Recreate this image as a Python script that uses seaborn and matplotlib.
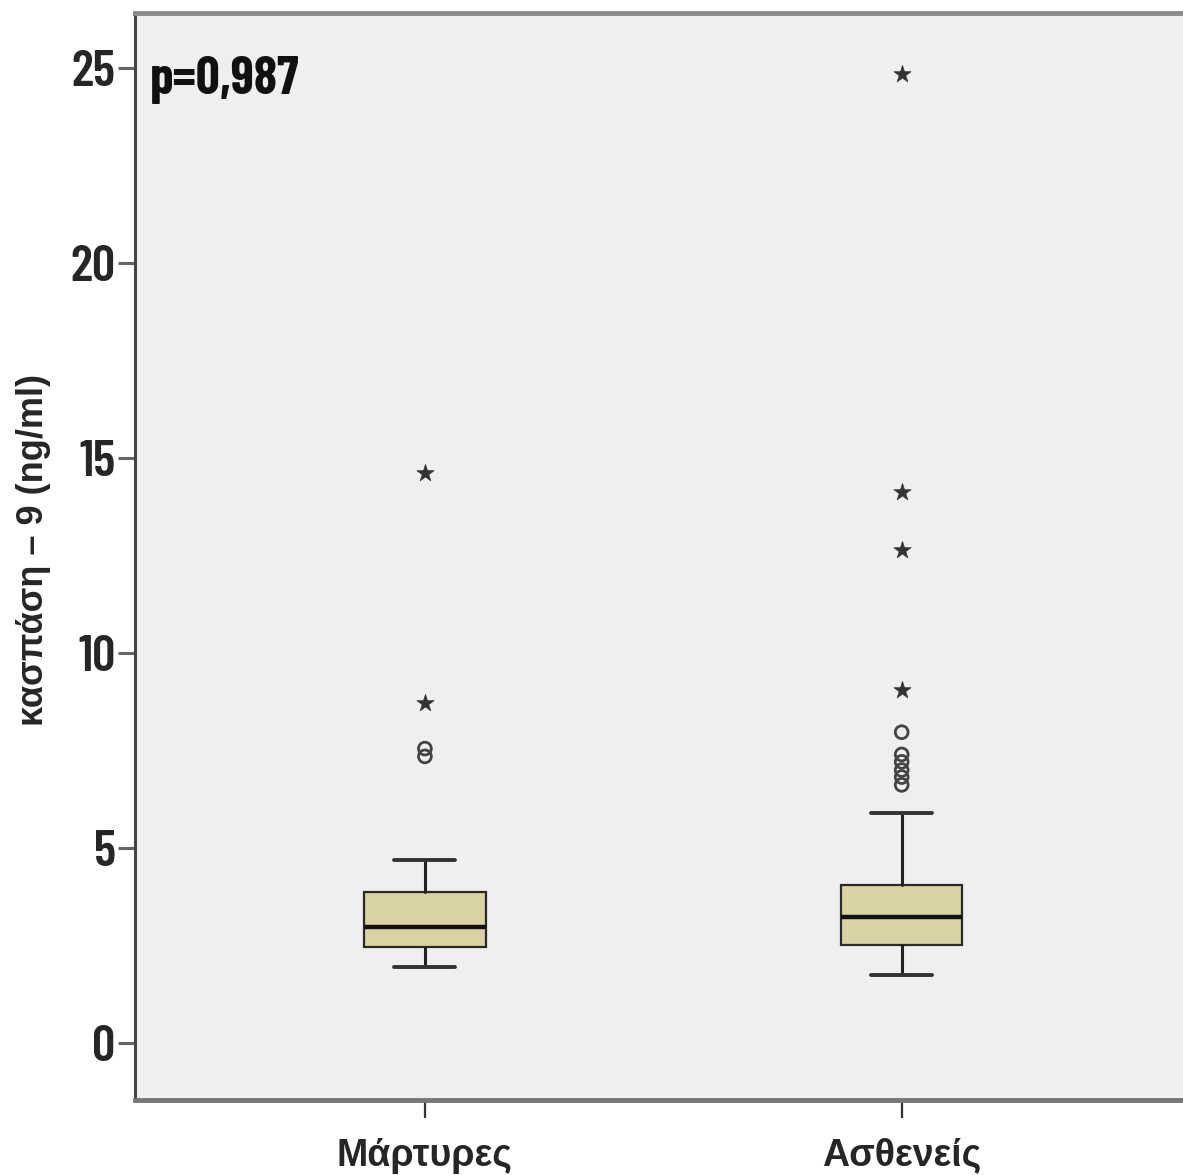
import matplotlib
matplotlib.use("Agg")
import matplotlib.pyplot as plt
import seaborn as sns
import pandas as pd

# Groups and box summaries (ng/ml)
groups = ["Μάρτυρες", "Ασθενείς"]
whisker_low = [1.95, 1.74]
q1 = [2.46, 2.51]
median = [2.97, 3.23]
q3 = [3.87, 4.05]
whisker_high = [4.69, 5.90]

# Mild outliers (circles) and extreme outliers (stars) per group
mild_controls = [7.35, 7.55]
mild_patients = [6.62, 6.82, 7.00, 7.21, 7.40, 7.97]
extreme_controls = [8.72, 14.62]
extreme_patients = [9.05, 12.64, 14.13, 24.85]

yticks = [0, 5, 10, 15, 20, 25]
p_text = "p=0,987"
y_label = "κασπάση – 9 (ng/ml)"

sns.set_theme(style="white")
plt.rcParams["font.family"] = ["Liberation Sans", "DejaVu Sans"]

fig = plt.figure(figsize=(11.83, 11.75), dpi=100)
ax = fig.add_axes([135 / 1183, 75 / 1175, 1 - 135 / 1183, (1100 - 13) / 1175])
ax.set_facecolor("#efefef")

stats = []
for i, g in enumerate(groups):
    stats.append(dict(label=g, whislo=whisker_low[i], q1=q1[i], med=median[i],
                      q3=q3[i], whishi=whisker_high[i], fliers=[]))

ax.bxp(stats, positions=range(len(groups)), widths=0.255, patch_artist=True,
       showfliers=False,
       boxprops=dict(facecolor="#d8d3a0", edgecolor="#2a2a2a", linewidth=1.6),
       medianprops=dict(color="#111111", linewidth=3.2),
       whiskerprops=dict(color="#222222", linewidth=2.2),
       capprops=dict(color="#333333", linewidth=2.8),
       capwidths=0.128)

mild = pd.DataFrame({
    "group": [0] * len(mild_controls) + [1] * len(mild_patients),
    "value": mild_controls + mild_patients,
})
extreme = pd.DataFrame({
    "group": [0] * len(extreme_controls) + [1] * len(extreme_patients),
    "value": extreme_controls + extreme_patients,
})

sns.scatterplot(data=mild, x="group", y="value", ax=ax, marker="o", s=85,
                facecolors="none", edgecolor="#444444", linewidth=2.0,
                legend=False, zorder=4)
sns.scatterplot(data=extreme, x="group", y="value", ax=ax, marker="*", s=170,
                color="#333333", edgecolor="#333333", linewidth=0.5,
                legend=False, zorder=4)

narrow = dict(family=["Barlow Condensed", "DejaVu Sans"], weight="semibold")

ax.set_xlim(-0.608, 1.59)
ax.set_ylim(-1.46, 26.41)
ax.set_xticks(range(len(groups)))
ax.set_xticklabels(groups, fontsize=27, fontweight="bold",
                   family=["Liberation Sans", "DejaVu Sans"])
ax.set_yticks(yticks)
ax.set_yticklabels([str(v) for v in yticks], fontsize=37, **narrow)
ax.set_xlabel("")
ax.set_ylabel(y_label, fontsize=26, fontweight="bold",
              family=["Liberation Sans", "DejaVu Sans"])
ax.yaxis.set_label_coords(-0.080, 0.506)

ax.tick_params(axis="y", direction="out", length=12, width=2.2,
               color="#666666", pad=2, left=True)
ax.tick_params(axis="x", direction="out", length=13, width=1.6,
               color="#333333", pad=14, bottom=True)

for side in ("left", "bottom", "top"):
    ax.spines[side].set_visible(True)
ax.spines["right"].set_visible(False)
ax.spines["left"].set_color("#444444")
ax.spines["left"].set_linewidth(2.2)
ax.spines["bottom"].set_color("#777777")
ax.spines["bottom"].set_linewidth(3.5)
ax.spines["top"].set_color("#8a8a8a")
ax.spines["top"].set_linewidth(3.5)

ax.text(0.0143, 0.960, p_text, transform=ax.transAxes, ha="left", va="top",
        fontsize=38, color="#111111", family=["Barlow Condensed", "DejaVu Sans"],
        weight="bold")

fig.savefig("out.png", dpi=100, facecolor="white")
